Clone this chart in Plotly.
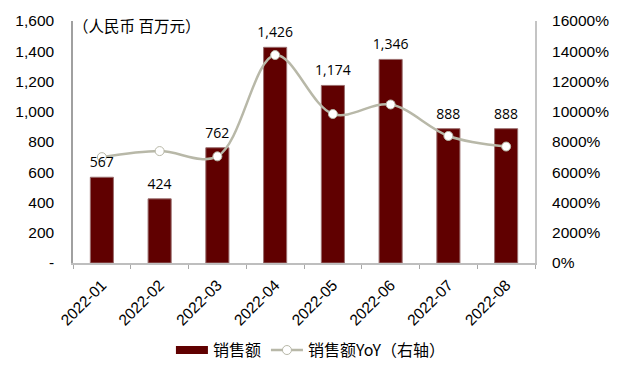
import plotly.graph_objects as go

categories = ["2022-01", "2022-02", "2022-03", "2022-04", "2022-05", "2022-06", "2022-07", "2022-08"]
sales = [567, 424, 762, 1426, 1174, 1346, 888, 888]
sales_labels = ["567", "424", "762", "1,426", "1,174", "1,346", "888", "888"]
yoy = [7000, 7400, 7050, 13750, 9850, 10480, 8400, 7700]
left_ticks = [0, 200, 400, 600, 800, 1000, 1200, 1400, 1600]
left_labels = ["-", "200", "400", "600", "800", "1,000", "1,200", "1,400", "1,600"]
right_ticks = [0, 2000, 4000, 6000, 8000, 10000, 12000, 14000, 16000]
right_labels = ["0%", "2000%", "4000%", "6000%", "8000%", "10000%", "12000%", "14000%", "16000%"]

BAR = "#600000"
LINE = "#B8B8A8"
CJK = "Noto Sans CJK SC"
TICK = dict(family="Liberation Sans", size=15.5, color="#000000")

fig = go.Figure()
fig.add_trace(go.Bar(
    x=categories, y=sales,
    marker=dict(color=BAR, line=dict(color="#9A6E6E", width=1)),
    width=0.4, showlegend=False, hoverinfo="skip"))
fig.add_trace(go.Scatter(
    x=[None], y=[None], mode="lines", name="销售额",
    line=dict(color=BAR, width=8), yaxis="y"))
fig.add_trace(go.Scatter(
    x=categories, y=yoy, mode="lines+markers", name="销售额YoY（右轴）", yaxis="y2",
    line=dict(color=LINE, width=2.5, shape="spline", smoothing=1),
    marker=dict(size=9, color="#FFFFFF", line=dict(color=LINE, width=1)),
    cliponaxis=False))
fig.add_trace(go.Scatter(
    x=categories, y=sales, mode="markers+text", text=sales_labels, textposition="top center",
    textfont=dict(family="Open Sans", size=14, color="#000000"), yaxis="y3",
    marker=dict(size=9, opacity=0), showlegend=False, hoverinfo="skip", cliponaxis=False))

fig.update_layout(
    width=620, height=372, paper_bgcolor="#FFFFFF", plot_bgcolor="#FFFFFF",
    margin=dict(l=65, r=93, t=13, b=117), bargap=0.6,
    xaxis=dict(type="category", range=[-0.5, 7.5], tickson="boundaries", ticks="outside", ticklen=4,
               tickcolor="#A8A8A8", showline=True, linecolor="#BEBEBE", linewidth=2, showgrid=False,
               tickangle=-45, tickfont=TICK, ticklabelstandoff=5, automargin=False),
    yaxis=dict(range=[0, 1600], tickvals=left_ticks, ticktext=left_labels, tickfont=TICK,
               showgrid=False, zeroline=False, showline=True, linecolor="#A0A0A0", linewidth=1.5,
               ticks="", ticklabelstandoff=14, automargin=False),
    yaxis2=dict(range=[0, 16000], tickvals=right_ticks, ticktext=right_labels, tickfont=TICK,
                overlaying="y", side="right", showgrid=False, zeroline=False, showline=True,
                linecolor="#C4C4C4", linewidth=2, ticks="", ticklabelstandoff=12, automargin=False),
    yaxis3=dict(range=[0, 1600], overlaying="y", visible=False),
    legend=dict(orientation="h", x=0.515, xanchor="center", xref="paper", y=-0.36, yanchor="middle",
                font=dict(family=CJK, size=16, color="#000000"), itemwidth=32,
                bgcolor="rgba(0,0,0,0)", traceorder="normal"),
    font=dict(family=CJK),
    annotations=[dict(text="（人民币 百万元）", xref="paper", yref="paper", x=-0.005, y=0.985,
                      xanchor="left", yanchor="middle", showarrow=False,
                      font=dict(family=CJK, size=15.5, color="#000000"))],
)
fig.write_html("out.html")
